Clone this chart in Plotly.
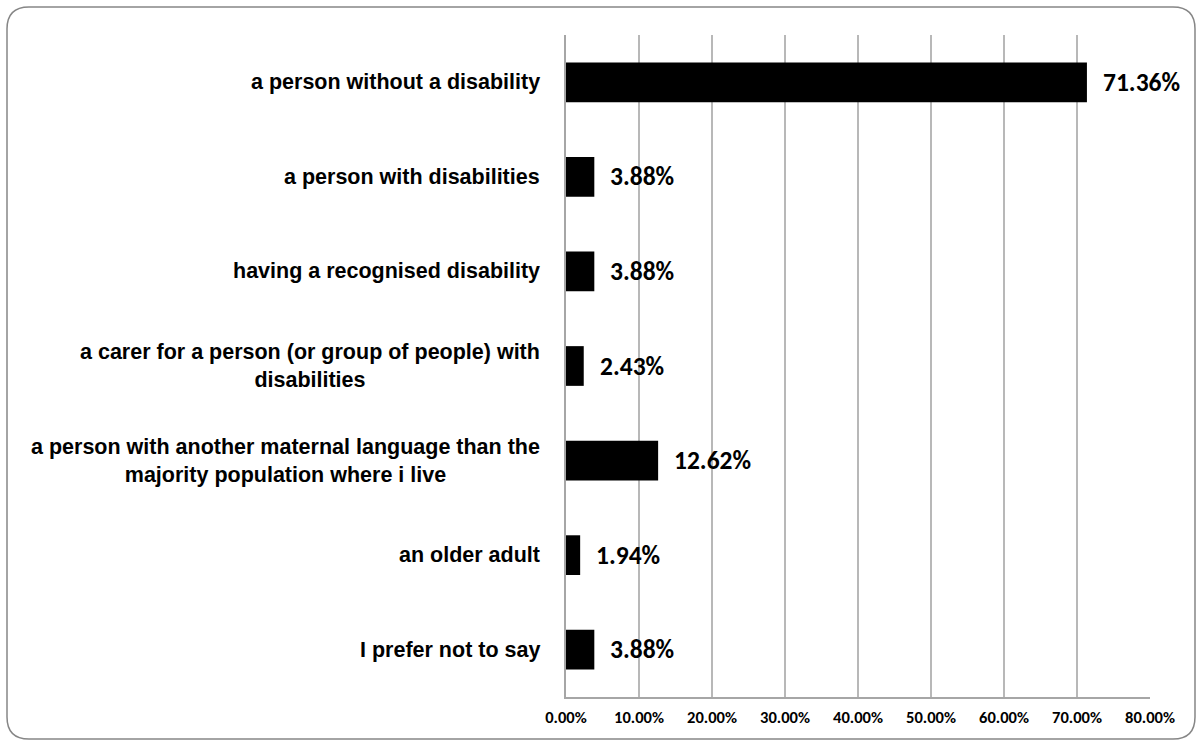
import plotly.graph_objects as go

# Survey categories (top to bottom) and their shares in percent
categories = [
    "a person without a disability",
    "a person with disabilities",
    "having a recognised disability",
    "a carer for a person (or group of people) with<br>disabilities",
    "a person with another maternal language than the<br>majority population where i live",
    "an older adult",
    "I prefer not to say",
]
values = [71.36, 3.88, 3.88, 2.43, 12.62, 1.94, 3.88]
tick_vals = [0, 10, 20, 30, 40, 50, 60, 70, 80]
tick_text = ["0.00%", "10.00%", "20.00%", "30.00%", "40.00%",
             "50.00%", "60.00%", "70.00%", "80.00%"]

W, H = 1203, 745
L, R, T, B = 566, 53, 35, 48
pw, ph = W - L - R, H - T - B

label_font = "Liberation Sans Narrow, Arial Narrow, Liberation Sans, Arial, sans-serif"
value_font = "Carlito, Calibri, Lato, sans-serif"

fig = go.Figure(go.Bar(
    x=values,
    y=categories,
    orientation="h",
    marker=dict(color="black", line=dict(width=0)),
    width=0.42,
    hoverinfo="skip",
))

annotations = []
for c, v in zip(categories, values):
    # category label to the left of the axis, lines centred
    annotations.append(dict(
        x=0, xref="paper", y=c, yref="y", xanchor="right", yanchor="middle",
        xshift=-24, text=c, showarrow=False, align="center",
        font=dict(family=label_font, size=21.5, color="black", weight="bold"),
    ))
    # value label at the end of the bar
    annotations.append(dict(
        x=v, xref="x", y=c, yref="y", xanchor="left", yanchor="middle",
        xshift=14, text=f"{v:.2f}%", showarrow=False,
        font=dict(family=value_font, size=25.5, color="black", weight="bold"),
    ))


def P(px, py):
    # pixel position on the page -> paper coordinates
    return f"{(px - L) / pw:.5f},{(H - B - py) / ph:.5f}"


# rounded frame around the whole chart
x0, y0, x1, y1, r = 7, 7, 1195, 739, 22
path = (f"M {P(x0 + r, y0)} L {P(x1 - r, y0)} Q {P(x1, y0)} {P(x1, y0 + r)} "
        f"L {P(x1, y1 - r)} Q {P(x1, y1)} {P(x1 - r, y1)} "
        f"L {P(x0 + r, y1)} Q {P(x0, y1)} {P(x0, y1 - r)} "
        f"L {P(x0, y0 + r)} Q {P(x0, y0)} {P(x0 + r, y0)} Z")

fig.update_layout(
    width=W, height=H,
    margin=dict(l=L, r=R, t=T, b=B),
    paper_bgcolor="white", plot_bgcolor="white",
    showlegend=False,
    annotations=annotations,
    shapes=[dict(type="path", xref="paper", yref="paper", path=path,
                 line=dict(color="#868686", width=1.5), layer="above")],
    xaxis=dict(
        range=[0, 80], tickvals=tick_vals, ticktext=tick_text,
        showgrid=True, gridcolor="#b8b8b8", gridwidth=1.5,
        showline=True, linecolor="#a6a6a6", linewidth=1.5,
        zeroline=False, ticks="", ticklabelstandoff=4,
        tickfont=dict(family=value_font, size=16.5, color="black", weight="bold"),
        fixedrange=True,
    ),
    yaxis=dict(
        autorange="reversed", showticklabels=False,
        showline=True, linecolor="#a6a6a6", linewidth=1.5,
        showgrid=False, zeroline=False, ticks="", fixedrange=True,
    ),
)

fig.write_html("out.html")
